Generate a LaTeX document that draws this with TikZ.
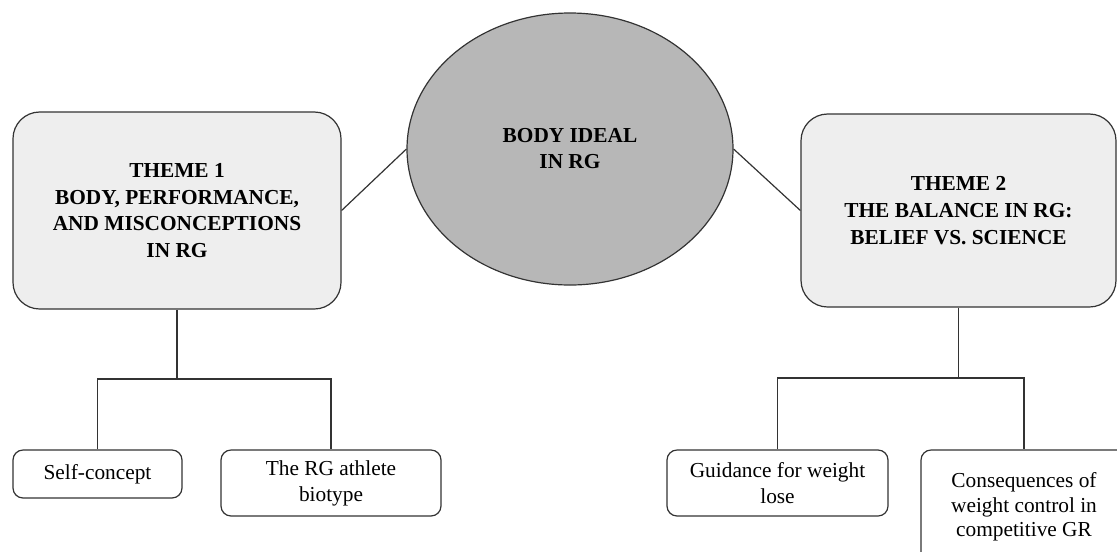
\documentclass[tikz,border=0pt]{standalone}
\usepackage{fontspec}
\setmainfont{Liberation Serif}
\usetikzlibrary{shapes.geometric}
\definecolor{boxgray}{HTML}{EEEEEE}
\definecolor{ellgray}{HTML}{B7B7B7}
\definecolor{edgegray}{HTML}{333333}

\begin{document}
\begin{tikzpicture}[x=0.75pt, y=-0.75pt, line width=0.9pt, draw=edgegray,
  theme/.style={draw=edgegray, fill=boxgray, rounded corners=20pt, align=center, inner sep=0pt, font=\bfseries},
  sub/.style={draw=edgegray, fill=white, rounded corners=7.5pt, align=center, inner sep=0pt},
  every node/.append style={font=\fontsize{16}{19.5}\selectfont}]
\useasboundingbox (0,0) rectangle (1117,551);

\node [ellipse, draw=edgegray, fill=ellgray, minimum width=244.5pt, minimum height=204pt, inner sep=0pt, align=center, font=\fontsize{16}{19.5}\selectfont\bfseries] (ideal) at (570,149) {BODY IDEAL\\IN RG};

\node [theme, minimum width=246pt, minimum height=147.75pt, font=\fontsize{16}{20}\selectfont\bfseries] (theme1) at (177,210.5) {THEME 1\\BODY, PERFORMANCE,\\AND MISCONCEPTIONS\\IN RG};
\node [theme, minimum width=236.25pt, minimum height=144.75pt, font=\fontsize{16}{20}\selectfont\bfseries] (theme2) at (958.5,210.5) {THEME 2\\THE BALANCE IN RG:\\BELIEF VS. SCIENCE};

\draw (theme1.east) -- (ideal.west);
\draw (ideal.east) -- (theme2.west);

\node [sub, minimum width=126.75pt, minimum height=36pt] (self) at (97.5,474) {Self-concept};
\node [sub, minimum width=165pt, minimum height=49.5pt] (biotype) at (331,483) {The RG athlete\\biotype};
\node [sub, minimum width=165.75pt, minimum height=49.5pt] (guidance) at (777.5,483) {Guidance for weight\\lose};
\node [sub, minimum width=154.5pt, minimum height=85.5pt, font=\fontsize{16}{18.5}\selectfont] (conseq) at (1024,507) {Consequences of\\weight control in\\competitive GR};

\coordinate (fork1) at (177,379);
\coordinate (fork2) at (958.5,378);
\draw (theme1.south) -- (fork1);
\draw (self.north) |- (fork1) -| (biotype.north);
\draw (theme2.south) -- (fork2);
\draw (guidance.north) |- (fork2) -| (conseq.north);
\end{tikzpicture}
\end{document}
